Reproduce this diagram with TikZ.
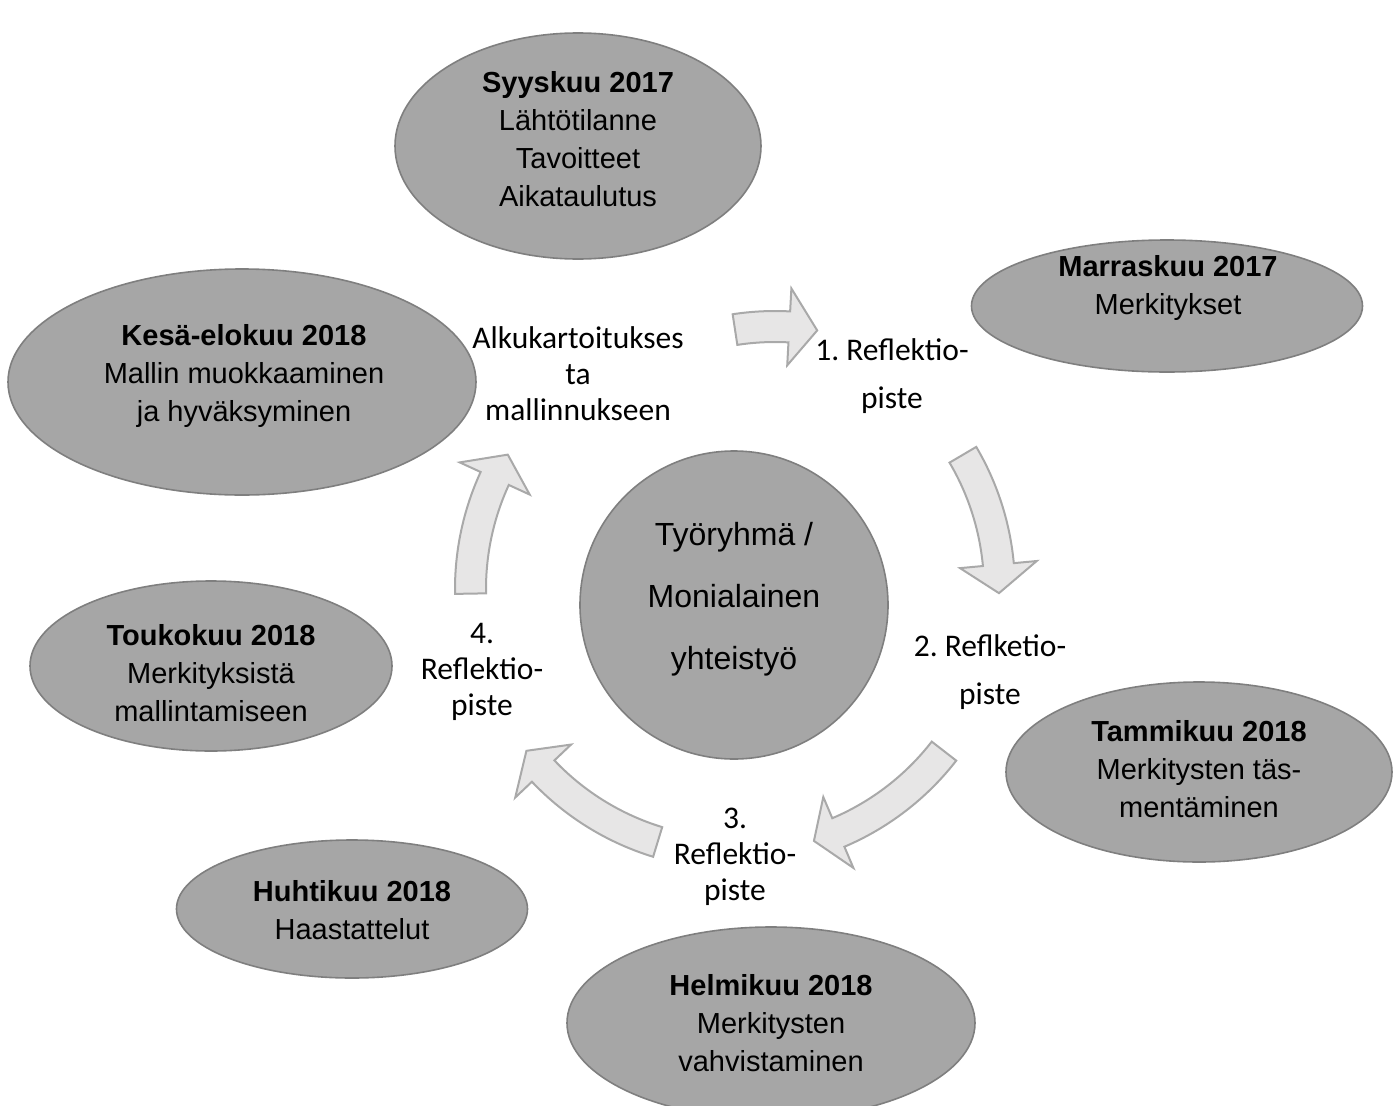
\documentclass[tikz,border=0pt]{standalone}
\usepackage{fontspec}
\setmainfont{Liberation Sans}
\newfontfamily\calibri{Carlito}
\usetikzlibrary{calc}
\usetikzlibrary{shapes.geometric}
\definecolor{ovalfill}{HTML}{A6A6A6}
\definecolor{ovaldraw}{HTML}{7F7F7F}
\definecolor{arrowfill}{HTML}{E7E6E6}
\definecolor{arrowdraw}{HTML}{A9A9A9}
\newcommand{\cyclearrow}[4]{%
	\draw[ringarrow] ($(#1)+(#2:280)$) arc[start angle=#2, end angle=#3, radius=280]
		-- ($(#1)+(#3:303)$) -- ($(#1)+(#4:264)$) -- ($(#1)+(#3:226)$)
		-- ($(#1)+(#3:249)$) arc[start angle=#3, end angle=#2, radius=249] -- cycle;}
\frenchspacing

\begin{document}
\begin{tikzpicture}[x=1pt, y=-1pt,
		oval/.style={ellipse, draw=ovaldraw, fill=ovalfill, line width=1.6pt, inner sep=0pt},
		ovaltext/.style={align=center, font=\fontsize{29}{38}\selectfont},
		phase/.style={align=center, font=\calibri\fontsize{31.5}{36}\selectfont},
		widephase/.style={phase, font=\calibri\fontsize{31.5}{48}\selectfont},
		ringarrow/.style={draw=arrowdraw, fill=arrowfill, line width=2pt}]
	\useasboundingbox (0,0) rectangle (1393,1106);
	\coordinate (ring) at (735,589);
	\coordinate (ringtop) at (775,591);
	
	\node[oval, minimum width=366pt, minimum height=226pt] (syys) at (578,146) {};
	\node[oval, minimum width=391pt, minimum height=132pt] (marras) at (1167,306) {};
	\node[oval, minimum width=386pt, minimum height=180pt] (tammi) at (1199,772) {};
	\node[oval, minimum width=408pt, minimum height=192pt] (helmi) at (771,1023) {};
	\node[oval, minimum width=351pt, minimum height=138pt] (huhti) at (352,909) {};
	\node[oval, minimum width=362pt, minimum height=170pt] (touko) at (211,666) {};
	\node[oval, minimum width=468pt, minimum height=226pt] (kesa) at (242,382) {};
	\node[oval, circle, minimum size=308pt] (tyoryhma) at (734,605) {};
	
	\node[ovaltext] (syysteksti) at (578,139) {\textbf{Syyskuu 2017}\\Lähtötilanne\\Tavoitteet\\Aikataulutus};
	\node[ovaltext] (marrasteksti) at (1168,288) {\textbf{Marraskuu 2017}\\Merkitykset};
	\node[ovaltext] (tammiteksti) at (1199,769) {\textbf{Tammikuu 2018}\\Merkitysten täs-\\mentäminen};
	\node[ovaltext] (helmiteksti) at (771,1023) {\textbf{Helmikuu 2018}\\Merkitysten\\vahvistaminen};
	\node[ovaltext] (huhtiteksti) at (352,910) {\textbf{Huhtikuu 2018}\\Haastattelut};
	\node[ovaltext] (toukoteksti) at (211,673) {\textbf{Toukokuu 2018}\\Merkityksistä\\mallintamiseen};
	\node[ovaltext] (kesateksti) at (244,376) {\textbf{Kesä-elokuu 2018}\\Mallin muokkaaminen\\ja hyväksyminen};
	\node[ovaltext, font=\fontsize{32}{62}\selectfont] (tyoryhmateksti) at (734,599) {Työryhmä /\\Monialainen\\yhteistyö};
	
	\node[phase] (alku) at (578,374) {Alkukartoitukses\\ta\\mallinnukseen};
	\node[widephase] (refl1) at (892,376) {1. Reflektio-\\piste};
	\node[widephase] (refl2) at (990,672) {2. Reflketio-\\piste};
	\node[phase] (refl3) at (735,857) {3.\\Reflektio-\\piste};
	\node[phase] (refl4) at (482,672) {4.\\Reflektio-\\piste};
	
	\cyclearrow{ringtop}{261.3}{273.1}{279.2}
	\cyclearrow{ring}{-30.5}{-5.3}{0.9}
	\cyclearrow{ring}{37.8}{67}{72.6}
	\cyclearrow{ring}{107}{136.5}{142.2}
	\cyclearrow{ring}{179}{204.7}{210.6}
\end{tikzpicture}
\end{document}
